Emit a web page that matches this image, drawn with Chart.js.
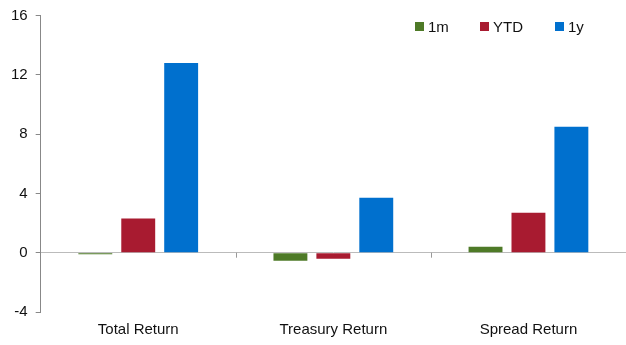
<!DOCTYPE html>
<html>
<head>
<meta charset="utf-8">
<script src="https://cdn.jsdelivr.net/npm/chart.js@4"></script>
<style>
  html, body { margin: 0; padding: 0; background: #fff; }
  #wrap { width: 626px; height: 345px; }
</style>
</head>
<body>
<div id="wrap"><canvas id="chart" width="626" height="345"></canvas></div>
<script>
const categories = ['Total Return', 'Treasury Return', 'Spread Return'];
const seriesNames = ['1m', 'YTD', '1y'];
const oneMonth = [-0.1, -0.55, 0.4];
const ytd = [2.3, -0.4, 2.7];
const oneYear = [12.8, 3.7, 8.5];
const yTicks = [-4, 0, 4, 8, 12, 16];
const colors = ['#4E7A27', '#A81B30', '#0070CE'];

const font = { family: '"Liberation Sans", Arial, sans-serif', size: 15 };

// legend drawn inside the plot, top right
const insideLegend = {
  id: 'insideLegend',
  afterDraw(chart) {
    const ctx = chart.ctx;
    const xs = [415, 480, 555];
    ctx.save();
    ctx.font = font.size + 'px ' + font.family;
    ctx.textBaseline = 'middle';
    chart.data.datasets.forEach((ds, i) => {
      ctx.fillStyle = ds.backgroundColor;
      ctx.fillRect(xs[i], 22, 9, 9);
      ctx.fillStyle = '#111';
      ctx.fillText(ds.label, xs[i] + 13, 28);
    });
    ctx.restore();
  }
};

// small tick marks on the zero line between categories
const zeroTicks = {
  id: 'zeroTicks',
  afterDraw(chart) {
    const x = chart.scales.x, y = chart.scales.y;
    const ctx = chart.ctx;
    const y0 = y.getPixelForValue(0);
    ctx.save();
    ctx.strokeStyle = '#999';
    ctx.lineWidth = 1;
    for (let i = 0; i < categories.length - 1; i++) {
      const px = Math.round((x.getPixelForValue(i) + x.getPixelForValue(i + 1)) / 2) + 0.5;
      ctx.beginPath();
      ctx.moveTo(px, y0);
      ctx.lineTo(px, y0 + 5);
      ctx.stroke();
    }
    ctx.restore();
  }
};

new Chart(document.getElementById('chart'), {
  type: 'bar',
  data: {
    labels: categories,
    datasets: [
      { label: seriesNames[0], data: oneMonth, backgroundColor: colors[0] },
      { label: seriesNames[1], data: ytd, backgroundColor: colors[1] },
      { label: seriesNames[2], data: oneYear, backgroundColor: colors[2] }
    ]
  },
  options: {
    responsive: false,
    animation: false,
    categoryPercentage: 0.66,
    barPercentage: 0.79,
    layout: { padding: { top: 1, right: 0, bottom: 0, left: 3 } },
    plugins: { legend: { display: false }, tooltip: { enabled: false } },
    scales: {
      x: {
        grid: { display: false, drawTicks: false, tickLength: 0 },
        border: { display: false },
        ticks: { color: '#111', font: font, padding: 9 },
        afterFit(scale) { scale.height = 33; }
      },
      y: {
        min: -4,
        max: 16,
        afterBuildTicks(scale) { scale.ticks = yTicks.map(v => ({ value: v })); },
        border: { display: true, color: '#888' },
        grid: {
          color: c => (c.tick && c.tick.value === 0) ? '#bbb' : 'rgba(0,0,0,0)',
          tickColor: '#888',
          tickLength: 5
        },
        ticks: { color: '#111', font: { family: font.family, size: font.size, lineHeight: 1 }, padding: 8 }
      }
    }
  },
  plugins: [insideLegend, zeroTicks]
});
</script>
</body>
</html>
